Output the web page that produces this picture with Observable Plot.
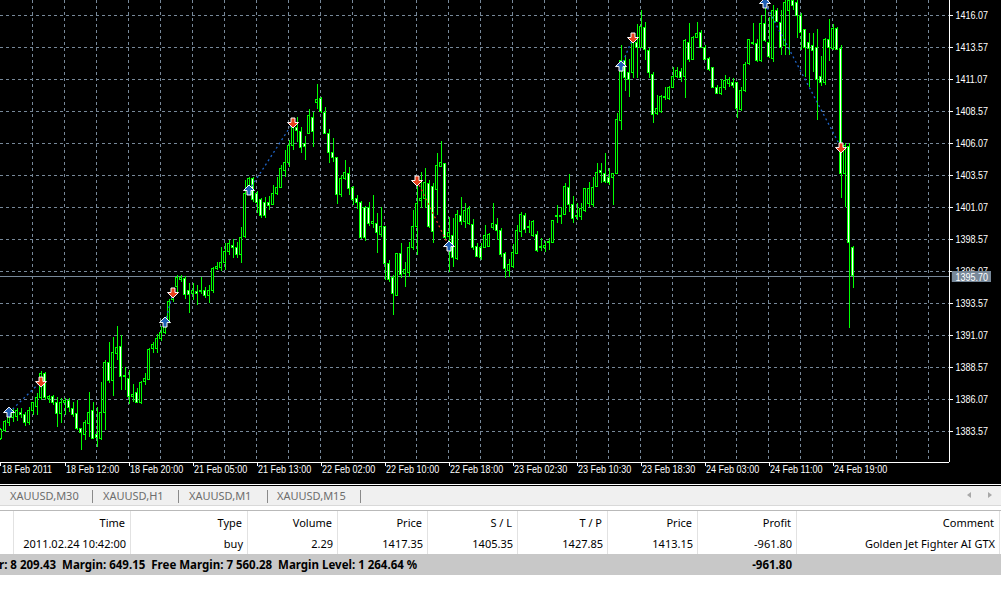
<!DOCTYPE html>
<html><head><meta charset="utf-8">
<script src="https://cdn.jsdelivr.net/npm/d3@7"></script>
<script src="https://cdn.jsdelivr.net/npm/@observablehq/plot@0.6"></script>
<style>
html,body{margin:0;padding:0;background:#fff;width:1001px;height:602px;overflow:hidden;}
#chart{position:absolute;left:0;top:0;width:1001px;height:484px;background:#000;}
#panel{position:absolute;left:0;top:0;width:1001px;height:602px;font-family:"Noto Sans","Open Sans",sans-serif;font-size:11px;}
#panel div{position:absolute;white-space:pre;}
</style></head><body>
<div id="chart"></div>
<div id="panel"></div>
<script>
// ---------- data (XAUUSD, M30) ----------
const open = [
1383.02,1383.57,1384.27,1384.66,1384.74,1385.05,1384.82,1384.27,1385.21,1385.52,
1386.15,1388.10,1386.07,1386.30,1385.83,1384.90,1385.76,1385.99,1385.29,1384.97,
1383.73,1383.26,1384.19,1385.21,1383.26,1383.02,1385.05,1388.96,1387.55,1389.66,
1390.21,1387.79,1387.71,1386.23,1386.54,1385.76,1387.40,1387.63,1390.05,1390.05,
1390.76,1391.23,1392.24,1393.88,1394.82,1395.44,1395.52,1394.51,1394.35,1394.43,
1394.43,1394.58,1394.12,1394.51,1396.30,1396.38,1396.77,1397.63,1398.10,1397.94,
1397.32,1398.73,1402.16,1403.33,1402.16,1401.62,1401.46,1401.46,1401.23,1402.16,
1402.63,1403.96,1404.58,1405.91,1407.32,1406.93,1406.07,1406.85,1408.10,1409.27,
1409.51,1408.49,1406.85,1405.29,1404.90,1402.01,1403.33,1403.72,1402.63,1401.77,
1401.46,1401.07,1401.07,1399.82,1399.82,1398.96,1399.51,1396.69,1395.60,1394.19,
1397.40,1395.91,1395.99,1397.94,1399.51,1401.54,1401.77,1402.94,1402.71,1402.40,
1404.27,1404.43,1398.73,1398.88,1397.08,1400.44,1399.90,1399.82,1399.74,1398.02,
1397.94,1397.94,1398.02,1399.43,1399.74,1399.27,1397.47,1396.07,1396.46,1397.47,
1399.12,1400.44,1399.51,1398.88,1398.96,1398.02,1397.94,1398.26,1398.26,1400.29,
1400.44,1400.52,1402.63,1401.30,1400.37,1400.29,1400.76,1401.38,1401.23,1402.71,
1403.96,1403.72,1403.41,1403.41,1403.72,1407.79,1412.55,1411.54,1411.54,1413.96,
1413.57,1415.13,1413.33,1411.46,1408.41,1408.57,1409.66,1409.51,1410.44,1411.30,
1411.62,1411.23,1413.96,1412.63,1414.35,1414.74,1413.57,1412.71,1411.93,1410.44,
1409.90,1410.44,1410.68,1410.76,1410.76,1408.72,1410.21,1412.32,1413.96,1413.88,
1412.48,1415.44,1413.96,1412.71,1416.46,1415.52,1413.65,1416.46,1417.24,1417.01,
1416.07,1414.90,1413.96,1413.65,1413.57,1411.30,1410.76,1414.19,1413.49,1415.05,
1413.49,1403.72,1405.83,1397.94];
const high = [
1383.81,1384.43,1385.05,1385.37,1385.37,1385.37,1385.05,1385.44,1385.83,1386.54,
1388.26,1388.18,1386.38,1386.38,1386.23,1386.15,1386.15,1386.15,1385.83,1385.99,
1383.81,1384.43,1386.62,1385.83,1385.44,1387.40,1389.12,1390.52,1390.91,1391.77,
1391.07,1388.57,1388.33,1387.24,1386.93,1387.47,1388.10,1390.05,1390.52,1391.15,
1391.77,1392.08,1393.88,1394.58,1395.76,1395.76,1395.68,1395.13,1395.13,1394.97,
1395.60,1394.82,1394.97,1396.38,1396.77,1397.94,1398.26,1398.49,1398.57,1398.33,
1399.51,1403.18,1403.41,1403.41,1402.32,1401.77,1401.85,1401.93,1402.79,1403.41,
1404.35,1405.52,1406.30,1407.87,1408.10,1407.32,1406.61,1408.72,1408.49,1410.68,
1409.66,1408.88,1407.16,1406.46,1404.97,1403.57,1404.74,1404.19,1402.71,1402.01,
1401.54,1401.15,1401.46,1402.01,1400.60,1401.07,1399.51,1396.93,1395.76,1397.47,
1398.26,1396.77,1398.33,1400.83,1402.79,1403.80,1404.11,1403.18,1402.94,1405.29,
1406.22,1404.51,1400.29,1400.21,1400.83,1401.85,1401.38,1401.15,1400.13,1398.26,
1398.26,1399.66,1399.04,1401.38,1400.21,1399.43,1397.55,1397.01,1398.18,1399.66,
1400.68,1400.60,1400.05,1400.05,1399.19,1398.65,1398.41,1398.65,1400.05,1401.23,
1401.07,1402.94,1403.65,1401.93,1401.38,1401.38,1402.55,1403.02,1403.41,1404.51,
1404.51,1405.29,1404.11,1403.72,1408.41,1413.72,1412.94,1412.63,1414.66,1415.37,
1416.46,1415.52,1413.49,1411.62,1409.82,1409.82,1410.44,1410.52,1412.01,1412.01,
1411.93,1414.19,1415.44,1414.43,1415.52,1414.90,1413.72,1412.79,1412.01,1410.60,
1411.07,1411.38,1411.23,1411.15,1410.83,1410.44,1412.40,1414.19,1415.44,1414.19,
1416.07,1417.40,1415.91,1416.85,1416.61,1416.46,1417.63,1417.63,1417.63,1417.40,
1416.22,1414.97,1414.66,1414.66,1414.97,1412.87,1414.27,1415.76,1415.37,1415.13,
1413.72,1406.07,1406.07,1398.02];
const low = [
1382.87,1383.49,1383.96,1384.27,1384.35,1384.58,1383.96,1384.04,1384.82,1384.82,
1385.99,1385.99,1385.76,1385.60,1383.88,1384.19,1384.82,1385.05,1384.66,1383.65,
1382.08,1382.87,1383.10,1383.02,1382.32,1382.87,1383.65,1387.32,1386.30,1389.12,
1386.77,1386.77,1385.68,1385.83,1385.76,1385.68,1387.16,1387.55,1389.66,1389.66,
1390.60,1391.15,1392.08,1393.65,1394.35,1395.21,1393.88,1392.79,1393.80,1393.41,
1394.27,1393.96,1393.57,1394.35,1396.15,1396.07,1396.15,1397.32,1397.08,1397.08,
1396.69,1398.65,1402.01,1401.46,1400.60,1400.21,1400.21,1400.83,1401.23,1402.01,
1402.55,1403.41,1404.19,1405.52,1406.15,1405.29,1404.74,1406.77,1405.76,1408.72,
1408.41,1406.77,1404.51,1404.58,1401.30,1401.85,1403.18,1402.01,1401.23,1400.91,
1398.57,1398.41,1399.58,1399.43,1397.47,1398.73,1395.37,1395.21,1392.63,1394.12,
1395.52,1394.82,1395.60,1397.71,1397.32,1400.99,1400.99,1399.43,1398.26,1400.44,
1404.19,1398.49,1395.99,1396.38,1396.93,1399.66,1399.43,1399.66,1397.71,1397.16,
1396.93,1397.87,1397.94,1399.27,1398.49,1397.16,1395.52,1395.60,1396.30,1397.47,
1398.73,1399.04,1399.04,1398.73,1397.55,1397.63,1397.55,1397.71,1398.26,1399.82,
1399.74,1400.44,1400.68,1399.82,1400.05,1400.05,1400.68,1401.07,1401.07,1402.63,
1402.94,1402.94,1402.79,1401.23,1403.72,1407.08,1410.13,1409.66,1411.15,1411.15,
1413.49,1412.55,1411.15,1407.63,1408.26,1408.41,1409.43,1409.43,1410.37,1411.15,
1410.83,1409.58,1412.40,1412.55,1414.35,1413.49,1412.55,1411.69,1410.37,1409.90,
1409.82,1410.21,1410.44,1410.37,1408.02,1408.57,1410.05,1412.16,1413.72,1412.40,
1412.40,1413.96,1412.71,1412.40,1415.52,1412.94,1412.94,1412.94,1416.46,1414.27,
1413.33,1411.23,1410.44,1411.62,1407.87,1410.52,1410.60,1412.48,1413.33,1413.33,
1401.77,1401.07,1391.62,1394.74];
const close = [
1383.65,1384.35,1384.74,1385.05,1385.21,1384.82,1384.27,1385.21,1385.76,1386.15,
1388.10,1386.15,1386.23,1385.83,1384.90,1385.76,1385.99,1385.37,1384.82,1383.73,
1383.42,1384.27,1385.05,1383.02,1383.10,1385.05,1388.96,1387.55,1389.74,1390.13,
1387.79,1387.94,1386.23,1386.46,1385.83,1387.32,1387.71,1389.90,1390.29,1390.83,
1391.30,1392.01,1393.72,1394.35,1395.60,1395.60,1394.27,1394.27,1394.51,1394.35,
1394.58,1394.12,1394.58,1396.30,1396.46,1396.77,1397.63,1398.18,1397.87,1397.32,
1398.65,1402.16,1403.33,1401.62,1401.46,1400.37,1400.44,1401.15,1402.16,1402.63,
1404.04,1404.58,1405.91,1407.32,1407.08,1405.68,1405.83,1408.18,1406.93,1409.43,
1408.57,1406.85,1405.29,1404.90,1402.08,1403.26,1403.80,1402.55,1401.69,1401.46,
1398.65,1398.65,1399.82,1399.90,1399.04,1399.51,1396.69,1395.44,1394.35,1397.40,
1395.83,1396.15,1397.94,1399.58,1401.38,1401.77,1403.02,1399.51,1399.12,1404.35,
1404.51,1398.65,1399.04,1397.16,1400.52,1399.90,1400.76,1400.99,1397.87,1397.24,
1397.16,1398.88,1398.96,1399.82,1399.27,1397.32,1396.30,1396.61,1397.55,1399.27,
1400.52,1399.35,1399.43,1399.90,1397.71,1397.94,1398.10,1398.41,1400.05,1400.44,
1400.29,1402.71,1401.23,1400.21,1400.29,1400.99,1402.48,1402.55,1402.63,1403.80,
1403.80,1403.10,1403.02,1403.65,1407.87,1412.55,1411.15,1411.07,1413.96,1413.57,
1415.21,1413.41,1411.54,1408.26,1408.80,1409.74,1409.74,1410.44,1411.23,1411.77,
1411.15,1414.04,1412.63,1414.35,1414.66,1413.57,1412.63,1411.85,1410.44,1409.97,
1410.44,1410.99,1411.07,1410.60,1408.80,1410.21,1412.24,1414.12,1413.88,1412.48,
1415.44,1414.04,1412.79,1416.46,1415.60,1413.57,1417.08,1417.24,1416.85,1416.07,
1414.74,1413.57,1413.49,1413.33,1411.07,1410.76,1414.12,1413.57,1415.05,1413.41,
1403.72,1405.91,1398.26,1395.68];

const priceTicks = [1416.07,1413.57,1411.07,1408.57,1406.07,1403.57,1401.07,1398.57,1396.07,1393.57,1391.07,1388.57,1386.07,1383.57];
const dateLabels = ["18 Feb 2011","18 Feb 12:00","18 Feb 20:00","21 Feb 05:00","21 Feb 13:00","22 Feb 02:00","22 Feb 10:00","22 Feb 18:00","23 Feb 02:30","23 Feb 10:30","23 Feb 18:30","24 Feb 03:00","24 Feb 11:00","24 Feb 19:00"];
const dateBars = [0,16,32,48,64,80,96,112,128,144,160,176,192,208];
const bid = 1395.70;

// trade arrows: bar index and price
const openBar   = [2, 41, 62, 104, 155, 191];
const openPrice = [1385.05, 1392.08, 1402.40, 1403.18, 1412.08, 1417.01];
const closeBar  = [10, 43, 73, 112, 158, 210];
const closePrice= [1387.47, 1394.43, 1407.71, 1398.02, 1414.35, 1405.76];
const tradeType = ["buy","buy","buy","sell","buy","buy"];

// terminal table
const headers = ["Time","Type","Volume","Price","S / L","T / P","Price","Profit","Comment"];
const rowVals = ["2011.02.24 10:42:00","buy","2.29","1417.35","1405.35","1427.85","1413.15","-961.80","Golden Jet Fighter AI GTX"];
const summaryText = "r: 8 209.43  Margin: 649.15  Free Margin: 7 560.28  Margin Level: 1 264.64 %";
const summaryProfit = "-961.80";
const tabs = ["XAUUSD,M30","XAUUSD,H1","XAUUSD,M1","XAUUSD,M15"];

// ---------- chart ----------
const bars = open.map((o,i)=>({i, open:o, high:high[i], low:low[i], close:close[i]}));
const X0 = -0.125, X1 = 237.125, Y0 = 1381.148, Y1 = 1417.242;
const GRID = "#778899", GREEN = "#00ff00";

const trades = openBar.map((b,k)=>({x1:b, y1:openPrice[k], x2:closeBar[k], y2:closePrice[k], t:tradeType[k]}));
const arrows = [];
trades.forEach(t=>{
  if (t.t==="buy") { arrows.push({x:t.x1,y:t.y1,dir:"up"}); arrows.push({x:t.x2,y:t.y2,dir:"down"}); }
  else { arrows.push({x:t.x1,y:t.y1,dir:"down"}); arrows.push({x:t.x2,y:t.y2,dir:"up"}); }
});
const arrowUp = {draw(c){ c.moveTo(0,-5.5); c.lineTo(5.5,0); c.lineTo(2,0); c.lineTo(2,4.5); c.lineTo(-2,4.5); c.lineTo(-2,0); c.lineTo(-5.5,0); c.closePath(); }};
const arrowDown = {draw(c){ c.moveTo(0,5.5); c.lineTo(5.5,0); c.lineTo(2,0); c.lineTo(2,-4.5); c.lineTo(-2,-4.5); c.lineTo(-2,0); c.lineTo(-5.5,0); c.closePath(); }};

const axisFont = "'Liberation Sans',Arial,sans-serif";

const chart = Plot.plot({
  width: 1001, height: 484,
  marginLeft: 0, marginRight: 52, marginTop: 0, marginBottom: 22,
  style: {background: "#000", color: "#fff", fontFamily: axisFont, fontSize: "11px"},
  x: {domain: [X0, X1], axis: null},
  y: {domain: [Y0, Y1], axis: null},
  marks: [
    Plot.ruleY(priceTicks, {stroke: GRID, strokeDasharray: "3,3", shapeRendering: "crispEdges"}),
    Plot.ruleX(d3.range(1, 30).map(k => 8*k + X0), {stroke: GRID, strokeDasharray: "3,3", shapeRendering: "crispEdges"}),
    Plot.ruleY([bid], {stroke: GRID, shapeRendering: "crispEdges"}),
    Plot.ruleX(bars, {x: "i", y1: "low", y2: "high", stroke: GREEN, shapeRendering: "crispEdges"}),
    Plot.rect(bars, {x1: d => d.i - 0.25, x2: d => d.i + 0.25, y1: "open", y2: "close",
      fill: d => d.close >= d.open ? "#000" : "#fff", stroke: GREEN, shapeRendering: "crispEdges"}),
    Plot.link(trades, {x1: "x1", y1: "y1", x2: "x2", y2: "y2",
      stroke: d => d.t === "buy" ? "#1e64c8" : "#e03c1e", strokeDasharray: "2,3", strokeWidth: 1.3}),
    Plot.dot(arrows.filter(a => a.dir === "up"), {x: "x", y: "y", symbol: arrowUp, fill: "#1e5fb4", stroke: "#fff", strokeWidth: 1}),
    Plot.dot(arrows.filter(a => a.dir === "down"), {x: "x", y: "y", symbol: arrowDown, fill: "#e8401c", stroke: "#fff", strokeWidth: 1}),
    // frame lines
    Plot.ruleX([X1], {stroke: "#fff", shapeRendering: "crispEdges"}),
    Plot.ruleY([Y0], {stroke: "#fff", shapeRendering: "crispEdges"}),
    // price axis
    Plot.ruleY(priceTicks, {x1: X1, x2: X1 + 1, stroke: "#fff", shapeRendering: "crispEdges"}),
    Plot.text(priceTicks, {y: d => d, frameAnchor: "right", dx: 6, textAnchor: "start", text: d => d.toFixed(2), fill: "#fff"}),
    // time axis
    Plot.ruleX(dateBars, {y1: Y0, y2: Y0 - 0.3, stroke: "#fff", shapeRendering: "crispEdges"}),
    Plot.text(dateBars, {x: d => d, frameAnchor: "bottom", dy: 10, dx: 1, textAnchor: "start", text: (d, k) => dateLabels[k], fill: "#fff"}),
    // bid label
    Plot.rect([bid], {x1: X1 + 0.7, x2: X1 + 10.5, y1: d => d + 0.37, y2: d => d - 0.49, fill: GRID}),
    Plot.text([bid], {y: d => d - 0.06, frameAnchor: "right", dx: 6, textAnchor: "start", text: d => d.toFixed(2), fill: "#fff"})
  ]
});
document.getElementById("chart").appendChild(chart);
// narrow the axis font to match the terminal's condensed bitmap font
chart.querySelectorAll("text").forEach(t => {
  const len = t.getComputedTextLength();
  if (len > 0) { t.setAttribute("textLength", (len * 0.82).toFixed(1)); t.setAttribute("lengthAdjust", "spacingAndGlyphs"); }
});

// ---------- terminal panel ----------
const panel = document.getElementById("panel");
function box(style, text){ const e = document.createElement("div"); Object.assign(e.style, style); if (text != null) e.textContent = text; panel.appendChild(e); return e; }
box({left:"0px", top:"484px", width:"1001px", height:"1px", background:"#ffffff"});
box({left:"0px", top:"485px", width:"1001px", height:"1px", background:"#000000"});
box({left:"0px", top:"486px", width:"1001px", height:"19px", background:"#f0f0f0"});
box({left:"0px", top:"505px", width:"1001px", height:"1px", background:"#d9d9d9"});
const tabLeft = [10, 103, 189, 277], tabSep = [92, 178, 267, 360];
tabs.forEach((t,k)=>{
  box({left: tabLeft[k] + "px", top:"487px", height:"18px", lineHeight:"18px", color:"#6d6d6d", fontSize:"11px"}, t);
  box({left: tabSep[k] + "px", top:"490px", width:"1px", height:"13px", background:"#8a8a8a"});
});
// scroll arrows
box({left:"967px", top:"492px", width:"0", height:"0", borderTop:"3.5px solid transparent", borderBottom:"3.5px solid transparent", borderRight:"4px solid #a8a8a8"});
box({left:"988px", top:"492px", width:"0", height:"0", borderTop:"3.5px solid transparent", borderBottom:"3.5px solid transparent", borderLeft:"4px solid #a8a8a8"});
// table
box({left:"0px", top:"510px", width:"1001px", height:"1px", background:"#b9b9b9"});
const edges = [13, 130, 247, 337, 427, 517, 607, 697, 796, 999];
edges.forEach(x => box({left: x + "px", top:"511px", width:"1px", height:"43px", background:"#e2e2e2"}));
headers.forEach((h,k)=>{
  box({left:(edges[k]) + "px", width:(edges[k+1]-edges[k]-5) + "px", top:"511px", height:"23px", lineHeight:"23px", textAlign:"right", color:"#000"}, h);
});
rowVals.forEach((v,k)=>{
  box({left:(edges[k]) + "px", width:(edges[k+1]-edges[k]-4) + "px", top:"534px", height:"20px", lineHeight:"20px", textAlign:"right", color:"#000"}, v);
});
box({left:"0px", top:"554px", width:"1001px", height:"21px", background:"#c8c8c8"});
box({left:"-1px", top:"554px", height:"21px", lineHeight:"21px", fontWeight:"bold", fontSize:"11.5px", color:"#000"}, summaryText);
box({left:"697px", width:"95px", top:"554px", height:"21px", lineHeight:"21px", textAlign:"right", fontWeight:"bold", fontSize:"11.5px", color:"#000"}, summaryProfit);
</script>
</body></html>
